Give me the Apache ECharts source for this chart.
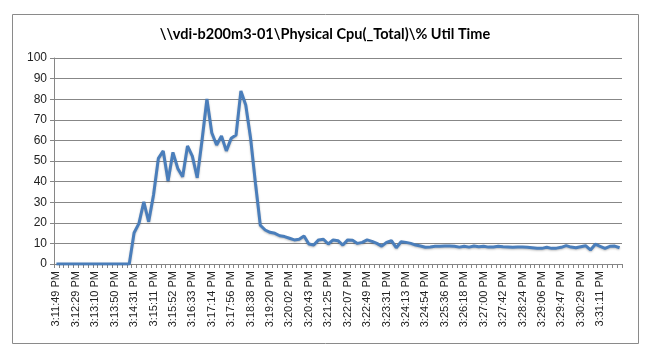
<!DOCTYPE html>
<html>
<head>
<meta charset="utf-8">
<script src="https://cdn.jsdelivr.net/npm/echarts@6/dist/echarts.min.js"></script>
<style>
html,body{margin:0;padding:0;background:#fff;}
#chart{width:650px;height:357px;}
</style>
</head>
<body>
<div id="chart"></div>
<script>
var titleText = "\\\\vdi-b200m3-01\\Physical Cpu(_Total)\\% Util Time";

var tickLabels = ["3:11:49 PM","3:12:29 PM","3:13:10 PM","3:13:50 PM","3:14:31 PM","3:15:11 PM","3:15:52 PM","3:16:33 PM","3:17:14 PM","3:17:56 PM","3:18:38 PM","3:19:20 PM","3:20:02 PM","3:20:43 PM","3:21:25 PM","3:22:07 PM","3:22:49 PM","3:23:31 PM","3:24:13 PM","3:24:54 PM","3:25:36 PM","3:26:18 PM","3:27:00 PM","3:27:42 PM","3:28:24 PM","3:29:06 PM","3:29:47 PM","3:30:29 PM","3:31:11 PM"];

var cpuValues = [
 0,0,0,0,0,0,0,0,0,0,
 0,0,0,0,0,0,15.2,19.7,30.2,20.5,
 33.5,51.3,54.9,40.3,54.2,46.4,42.4,57.3,52.4,41.9,
 60.2,80.1,63.7,57.8,62.1,54.9,61.0,62.6,84.0,77.2,
 61.0,39.2,18.8,16.5,15.4,14.9,13.7,13.3,12.5,11.7,
 12.0,13.6,9.7,9.2,11.7,12.0,9.7,11.7,11.3,9.2,
 11.7,11.5,10.0,10.5,11.7,11.0,10.0,8.7,10.5,11.3,
 7.9,10.8,10.5,10.0,9.2,8.7,8.1,8.3,8.6,8.6,
 8.7,8.7,8.6,8.2,8.6,8.2,8.7,8.4,8.6,8.2,
 8.3,8.6,8.4,8.3,8.1,8.3,8.2,8.1,7.9,7.6,
 7.6,8.1,7.6,7.7,8.1,8.9,8.2,7.9,8.4,8.9,
 6.8,9.6,8.6,7.6,8.6,8.7,7.9
];

var labelEvery = 4;
var categories = cpuValues.map(function (v, i) {
  return i % labelEvery === 0 ? (tickLabels[i / labelEvery] || '') : '';
});

var chart = echarts.init(document.getElementById('chart'), null, {renderer: 'canvas'});
chart.setOption({
  animation: false,
  backgroundColor: '#ffffff',
  title: {
    text: titleText,
    left: 'center',
    top: 22,
    textStyle: {fontFamily: 'Lato', fontWeight: 'bold', fontSize: 14.5, color: '#000'}
  },
  graphic: [{
    type: 'rect', left: 10, top: 12, silent: true,
    shape: {width: 626, height: 329},
    style: {fill: 'none', stroke: '#8a8a8a', lineWidth: 1}
  }],
  grid: {left: 54, right: 28, top: 58, bottom: 93, containLabel: false},
  xAxis: {
    type: 'category',
    data: categories,
    boundaryGap: true,
    axisLine: {lineStyle: {color: '#868686', width: 1}},
    axisTick: {show: true, interval: 0, length: 4, lineStyle: {color: '#868686'}},
    axisLabel: {
      interval: function (i) { return i % labelEvery === 0; },
      rotate: 90,
      margin: 7,
      padding: [9, 0, 0, 0],
      fontFamily: 'Liberation Sans',
      fontSize: 11,
      color: '#222'
    },
    splitLine: {show: false}
  },
  yAxis: {
    type: 'value',
    min: 0, max: 100, interval: 10,
    axisLine: {show: true, lineStyle: {color: '#868686'}},
    axisTick: {show: true, length: 4, lineStyle: {color: '#868686'}},
    axisLabel: {fontFamily: 'Liberation Sans', fontSize: 12, color: '#222', margin: 7},
    splitLine: {lineStyle: {color: '#878787', width: 1}}
  },
  series: [{
    type: 'line',
    data: cpuValues,
    symbol: 'none',
    smooth: false,
    lineStyle: {color: '#4a7ebb', width: 3, shadowColor: 'rgba(0,0,0,0.25)', shadowBlur: 2, shadowOffsetY: 1}
  }]
});
</script>
</body>
</html>
